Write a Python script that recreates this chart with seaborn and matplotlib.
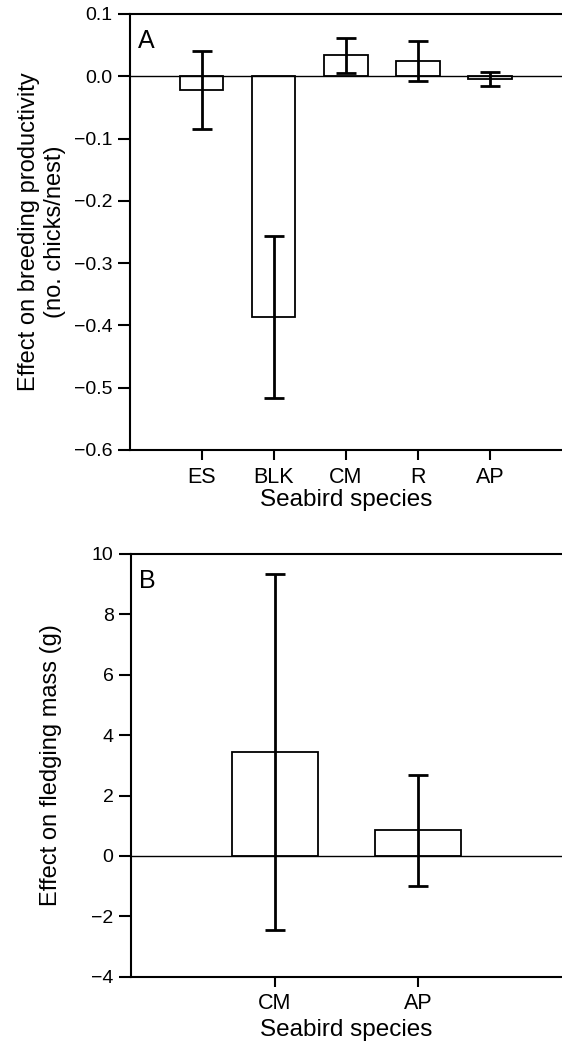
import pandas as pd
import matplotlib
matplotlib.use("Agg")
import matplotlib.pyplot as plt
import seaborn as sns

# Panel A: effect on breeding productivity
species_a = ["ES", "BLK", "CM", "R", "AP"]
effect_a = [-0.022, -0.387, 0.034, 0.024, -0.004]
err_a = [0.063, 0.130, 0.028, 0.032, 0.011]

# Panel B: effect on fledging mass
species_b = ["CM", "AP"]
effect_b = [3.43, 0.85]
err_b = [5.9, 1.84]

sns.set_style("ticks", {"axes.edgecolor": "black", "text.color": "black",
                        "axes.labelcolor": "black", "xtick.color": "black",
                        "ytick.color": "black"})
plt.rcParams['font.family'] = ['Liberation Sans', 'DejaVu Sans']
plt.rcParams['axes.linewidth'] = 1.5

fig = plt.figure(figsize=(5.62, 10.6), dpi=100)
ax_a = fig.add_axes([0.231, 0.5755, 0.769, 0.4113])
ax_b = fig.add_axes([0.233, 0.0786, 0.767, 0.3988])


def draw_panel(ax, cats, vals, errs, letter, ylabel, ylim, yticks, ytick_fmt, ypad, xpad):
    df = pd.DataFrame({"species": cats, "effect": vals})
    sns.barplot(data=df, x="species", y="effect", ax=ax, color="white",
                edgecolor="black", linewidth=1.3, width=0.6, errorbar=None,
                saturation=1)
    ax.errorbar(range(len(cats)), vals, yerr=errs, fmt="none", ecolor="black",
                elinewidth=2, capsize=7.5, capthick=2)
    ax.axhline(0, color="black", lw=1)
    ax.set_xlim(-1, len(cats))
    ax.set_ylim(*ylim)
    ax.set_yticks(yticks)
    ax.set_yticklabels([ytick_fmt(v) for v in yticks])
    ax.set_xlabel("Seabird species", fontsize=17.5, labelpad=xpad)
    ax.set_ylabel(ylabel, fontsize=17, labelpad=ypad)
    ax.tick_params(axis="y", direction="out", length=9, width=1.5, labelsize=14)
    ax.tick_params(axis="x", direction="out", length=7, width=1.5,
                   labelsize=15.5, pad=5)
    ax.spines["right"].set_visible(False)
    ax.spines["top"].set_visible(True)
    ax.text(0.019, 0.965, letter, transform=ax.transAxes, fontsize=18,
            va="top", ha="left")


def fmt_a(v):
    s = f"{abs(v):.1f}"
    return ("\u2212" + s) if v < -1e-9 else s


def fmt_b(v):
    return ("\u2212" + str(abs(int(v)))) if v < 0 else str(int(v))


draw_panel(ax_a, species_a, effect_a, err_a, "A",
           "Effect on breeding productivity\n(no. chicks/nest)",
           (-0.6, 0.1), [0.1, 0.0, -0.1, -0.2, -0.3, -0.4, -0.5, -0.6], fmt_a, 6, 1)
draw_panel(ax_b, species_b, effect_b, err_b, "B",
           "Effect on fledging mass (g)",
           (-4, 10), [10, 8, 6, 4, 2, 0, -2, -4], fmt_b, 21, 3)

fig.savefig("out.png", dpi=100)
